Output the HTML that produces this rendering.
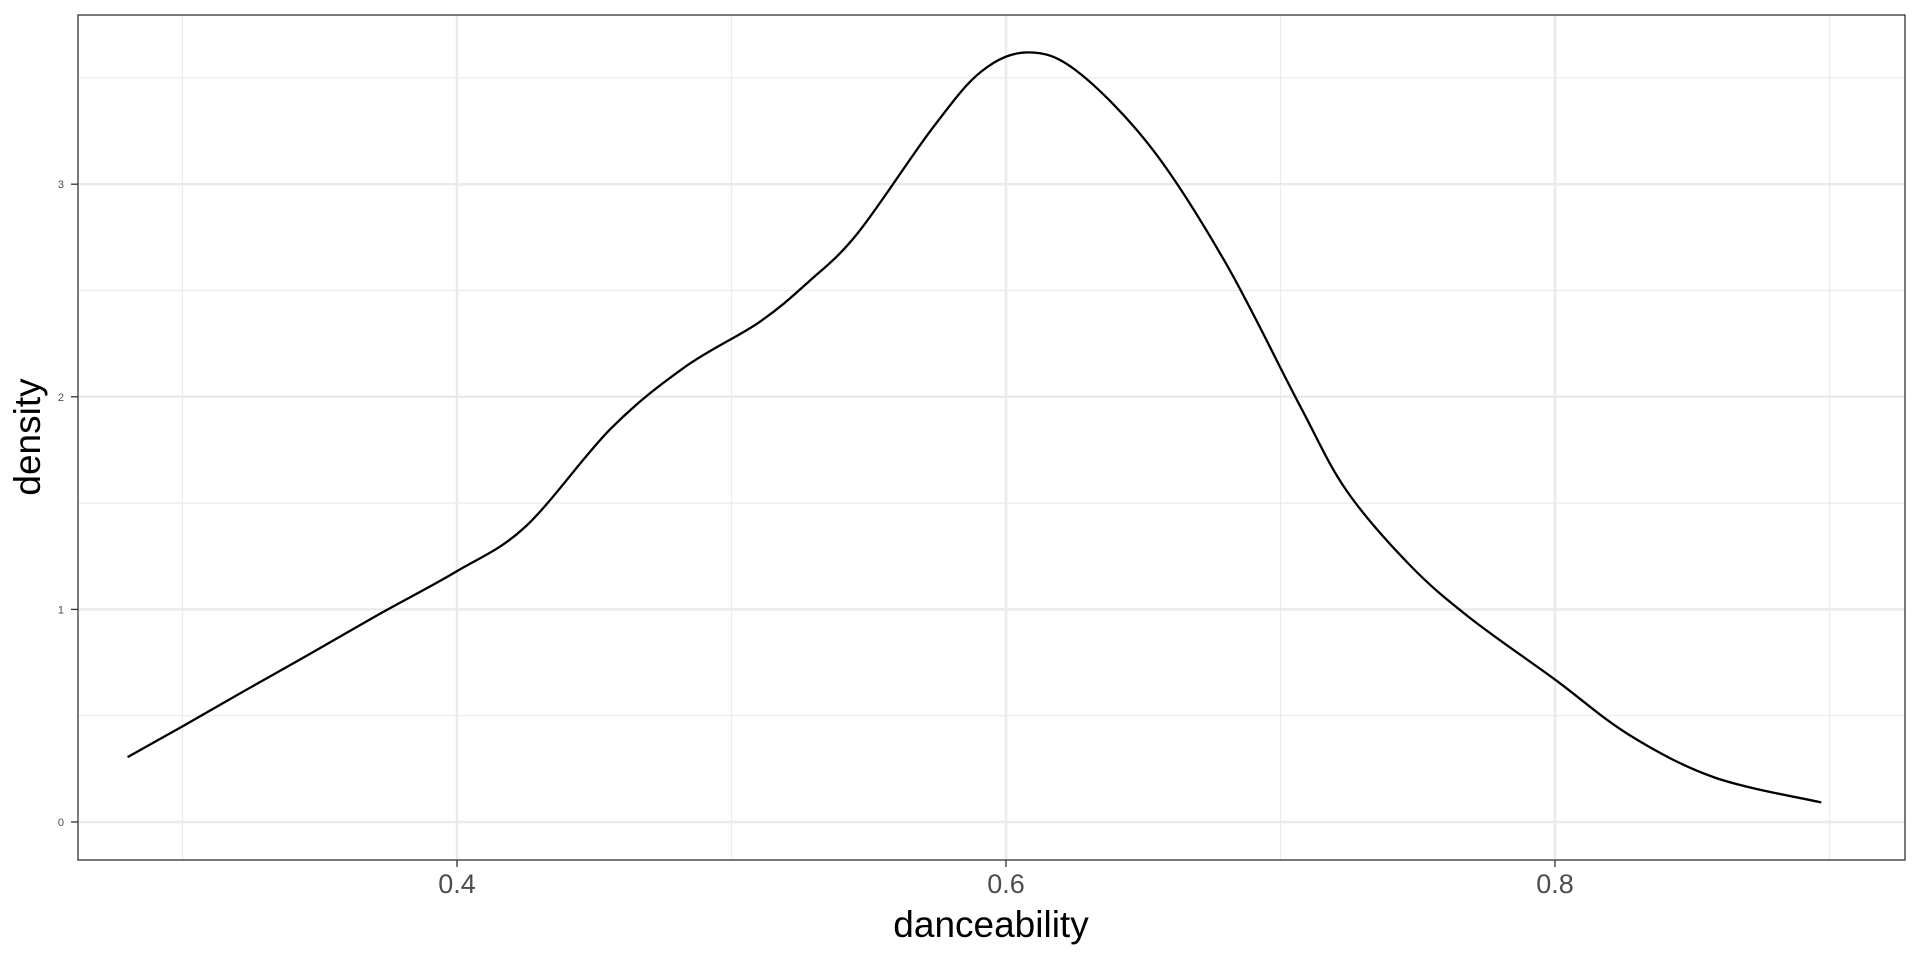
<!DOCTYPE html>
<html><head><meta charset="utf-8"><style>
html,body{margin:0;padding:0;background:#fff;}
svg{display:block;font-family:"Liberation Sans",sans-serif;}
</style></head><body>
<svg id="chart" width="1920" height="960" viewBox="0 0 1920 960" xmlns="http://www.w3.org/2000/svg"></svg>
<script>
const xs = [0.280,0.300,0.323,0.345,0.372,0.4,0.425,0.456,0.483,0.510,0.528,0.546,0.573,0.591,0.608,0.626,0.653,0.680,0.707,0.724,0.747,0.769,0.8,0.827,0.858,0.897];
const ys = [0.305,0.45,0.62,0.78,0.98,1.18,1.39,1.85,2.14,2.35,2.54,2.77,3.26,3.53,3.62,3.53,3.17,2.63,1.96,1.56,1.21,0.96,0.67,0.41,0.21,0.092];
const xMajor = [0.4,0.6,0.8];
const xMinor = [0.3,0.5,0.7,0.9];
const yMajor = [0,1,2,3];
const yMinor = [0.5,1.5,2.5,3.5];
const xLabels = ["0.4","0.6","0.8"];
const yLabels = ["0","1","2","3"];

const L=78,R=1905,T=15,B=860;
function sx(v){return 457 + (v-0.4)*2745;}
function sy(v){return 822 - v*212.6;}
const NS="http://www.w3.org/2000/svg";
const svg=document.getElementById('chart');
function mk(tag,attrs,parent){const e=document.createElementNS(NS,tag);for(const k in attrs)e.setAttribute(k,attrs[k]);(parent||svg).appendChild(e);return e;}

const grid=mk('g',{});


xMinor.forEach(v=>mk('line',{x1:sx(v),x2:sx(v),y1:T,y2:B,stroke:'#ebebeb','stroke-width':1.2},grid));
yMinor.forEach(v=>mk('line',{x1:L,x2:R,y1:sy(v),y2:sy(v),stroke:'#ebebeb','stroke-width':1.2},grid));
xMajor.forEach(v=>mk('line',{x1:sx(v),x2:sx(v),y1:T,y2:B,stroke:'#ebebeb','stroke-width':2.5},grid));
yMajor.forEach(v=>mk('line',{x1:L,x2:R,y1:sy(v),y2:sy(v),stroke:'#ebebeb','stroke-width':2.5},grid));

const P=xs.map((x,i)=>[sx(x),sy(ys[i])]);
let d=`M${P[0][0]},${P[0][1]}`;
for(let i=0;i<P.length-1;i++){
  const p0=P[Math.max(0,i-1)],p1=P[i],p2=P[i+1],p3=P[Math.min(P.length-1,i+2)];
  const c1=[p1[0]+(p2[0]-p0[0])/6,p1[1]+(p2[1]-p0[1])/6];
  const c2=[p2[0]-(p3[0]-p1[0])/6,p2[1]-(p3[1]-p1[1])/6];
  d+=` C${c1[0]},${c1[1]} ${c2[0]},${c2[1]} ${p2[0]},${p2[1]}`;
}
const line=mk('path',{d:d,fill:'none',stroke:'#000','stroke-width':2.3});



const border=mk('rect',{x:L,y:T,width:R-L,height:B-T,fill:'none',stroke:'#333','stroke-width':1.3});



xMajor.forEach((v,i)=>{
  mk('line',{x1:sx(v),x2:sx(v),y1:B,y2:B+7,stroke:'#333','stroke-width':1.3});
  const t=mk('text',{x:sx(v),y:B+33,'text-anchor':'middle','font-size':27,fill:'#4d4d4d'});
  t.textContent=xLabels[i];
  
  
});
yMajor.forEach((v,i)=>{
  mk('line',{x1:L-7,x2:L,y1:sy(v),y2:sy(v),stroke:'#333','stroke-width':1.3});
  const t=mk('text',{x:L-14,y:sy(v)+4,'text-anchor':'end','font-size':11,fill:'#4d4d4d'});
  t.textContent=yLabels[i];
  
  
});
const xt=mk('text',{x:991,y:937,'text-anchor':'middle','font-size':37,fill:'#000'});
xt.textContent='danceability';


const yt=mk('text',{x:0,y:0,'text-anchor':'middle','font-size':37,fill:'#000',transform:'translate(40,437) rotate(-90)'});
yt.textContent='density';


</script>
</body></html>
